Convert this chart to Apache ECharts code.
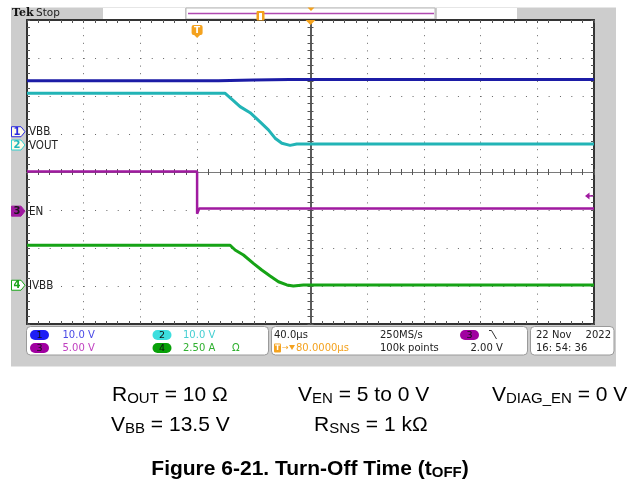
<!DOCTYPE html>
<html><head><meta charset="utf-8">
<script src="https://cdn.jsdelivr.net/npm/echarts@6/dist/echarts.min.js"></script>
<style>html,body{margin:0;padding:0;background:#fff}#c{width:633px;height:481px}</style>
</head><body><div id="c"></div>
<script>
// ---- time axis (µs, 0 = trigger), 40 µs/div, 10 divisions ----
const timeMin = -120, timeMax = 280, timeDiv = 40;
const divMin = -4, divMax = 4;
// ---- channel settings ----
const channelNames = ['VBB', 'VOUT', 'EN', 'IVBB'];
const channelScales = [10, 10, 5, 2.5];          // units per division
const channelOffsets = [1.06, 0.71, -1.03, -2.98]; // ground marker position (div)
const channelColors = ['#1c1ca6', '#22b4b6', '#a01aa0', '#16a316'];
const triggerLevel = 2.0;      // V on channel 3
const horizPosition = 80;      // µs (screen centre)
// ---- traces (time µs, value in V / A) ----
const vbbTime   = [-120, 15, 40, 65, 280];
const vbbValues = [13.4, 13.4, 13.6, 13.75, 13.75];
const voutTime   = [-120, 19.8, 25.6, 30.3, 37.4, 44.4, 50.3, 55.0, 59.8, 65.6, 70.3, 280];
const voutValues = [13.6, 13.6, 11.7, 10.1, 8.5, 6.1, 4.0, 1.8, 0.45, -0.1, 0.25, 0.25];
const enTime   = [-120, 0, 0, 1.5, 280];
const enValues = [5.2, 5.2, -0.35, 0.35, 0.35];
const ivbbTime   = [-120, 23.3, 26.8, 32.7, 39.7, 45.6, 51.5, 57.4, 63.3, 67.9, 75, 280];
const ivbbValues = [2.63, 2.63, 2.32, 1.99, 1.44, 1.00, 0.61, 0.23, 0.02, -0.05, 0.02, 0.02];

const traceTimes = [vbbTime, voutTime, enTime, ivbbTime];
const traceValues = [vbbValues, voutValues, enValues, ivbbValues];

const chart = echarts.init(document.getElementById('c'), null, {renderer: 'canvas'});
const G = {left: 27, top: 20, width: 567, height: 304};
const frameLine = {show: true, onZero: false, lineStyle: {color: '#333', width: 2}};
const tickIn = {show: true, inside: true, length: 3, lineStyle: {color: '#555', width: 1}};
const minor = {show: true, splitNumber: 5, length: 3, lineStyle: {color: '#555', width: 1}};
const noLabel = {show: false};

function centerX(inside) {
  return {type: 'value', min: -200, max: 200, interval: 40,
    axisLine: {show: true, onZero: true, lineStyle: {color: '#7a7a7a', width: 1.2}},
    axisTick: {show: true, inside: inside, length: 3, lineStyle: {color: '#555'}},
    minorTick: minor, axisLabel: noLabel, splitLine: {show: false}};
}
function centerY(inside) {
  return {type: 'value', min: divMin, max: divMax, interval: 1,
    axisLine: {show: true, onZero: true, lineStyle: {color: '#555', width: 1.6}},
    axisTick: {show: true, inside: inside, length: 3, lineStyle: {color: '#555'}},
    minorTick: minor, axisLabel: noLabel, splitLine: {show: false}};
}

const series = traceTimes.map((ts, i) => ({
  name: channelNames[i], type: 'line', xAxisIndex: 0, yAxisIndex: 0,
  showSymbol: false, symbol: 'none', animation: false, z: 5 + (i === 2 ? 0 : 1),
  lineStyle: {color: channelColors[i], width: i === 2 ? 2.5 : 3},
  data: ts.map((t, k) => [t, channelOffsets[i] + traceValues[i][k] / channelScales[i]])
}));

chart.setOption({
  animation: false,
  backgroundColor: '#ffffff',
  grid: [Object.assign({}, G), Object.assign({}, G), Object.assign({}, G)],
  xAxis: [
    {gridIndex: 0, type: 'value', min: timeMin, max: timeMax, interval: timeDiv, position: 'bottom',
     axisLine: frameLine, axisTick: tickIn, minorTick: minor, axisLabel: noLabel,
     splitLine: {show: true, lineStyle: {color: '#666', width: 1, type: [1, 6.6]}}},
    {gridIndex: 0, type: 'value', min: timeMin, max: timeMax, interval: timeDiv, position: 'top',
     axisLine: frameLine, axisTick: tickIn, minorTick: minor, axisLabel: noLabel, splitLine: {show: false}},
    Object.assign({gridIndex: 1}, centerX(true)),
    Object.assign({gridIndex: 2}, centerX(false))
  ],
  yAxis: [
    {gridIndex: 0, type: 'value', min: divMin, max: divMax, interval: 1, position: 'left',
     axisLine: frameLine, axisTick: tickIn, minorTick: minor, axisLabel: noLabel,
     splitLine: {show: true, lineStyle: {color: '#666', width: 1, type: [1, 10.34]}}},
    {gridIndex: 0, type: 'value', min: divMin, max: divMax, interval: 1, position: 'right',
     axisLine: frameLine, axisTick: tickIn, minorTick: minor, axisLabel: noLabel, splitLine: {show: false}},
    Object.assign({gridIndex: 1}, centerY(true)),
    Object.assign({gridIndex: 2}, centerY(false))
  ],
  series: series
});

// ---- decorations computed from the scales ----
const px = (t, v) => chart.convertToPixel({xAxisIndex: 0, yAxisIndex: 0}, [t, v]);
const FONT = '"DejaVu Sans", sans-serif';
const NARROW = '"Liberation Sans Narrow", "DejaVu Sans Condensed", sans-serif';
const els = [];
function txt(x, y, s, color, size, opts) {
  opts = opts || {};
  els.push({type: 'text', z: 30, style: Object.assign({
    x: x, y: y, text: s, fill: color, font: (opts.weight || 'normal') + ' ' + size + 'px ' + (opts.family || FONT),
    textAlign: opts.align || 'left', align: opts.align || 'left',
    textVerticalAlign: 'middle', verticalAlign: 'middle'}, opts.extra || {})});
}
// background panel
els.push({type: 'rect', z: -10, shape: {x: 11, y: 7.5, width: 605, height: 359}, style: {fill: '#cdcdcd'}});
els.push({type: 'rect', z: -9, shape: {x: G.left, y: G.top, width: G.width, height: G.height}, style: {fill: '#ffffff'}});
// top bar
els.push({type: 'rect', z: -9, shape: {x: 103, y: 8, width: 82, height: 11}, style: {fill: '#fff'}});
els.push({type: 'rect', z: -9, shape: {x: 186, y: 8, width: 249, height: 11}, style: {fill: '#fff', stroke: '#b8b8b8', lineWidth: 1}});
els.push({type: 'rect', z: -9, shape: {x: 437, y: 8, width: 80, height: 11}, style: {fill: '#fff'}});
els.push({type: 'line', z: 20, shape: {x1: 188, y1: 13.5, x2: 434, y2: 13.5}, style: {stroke: '#b04ab0', lineWidth: 1.5}});
els.push({type: 'rect', z: 21, shape: {x: 257, y: 11.5, width: 7, height: 8.5}, style: {fill: '#f4a21e', stroke: '#f4a21e'}});
els.push({type: 'rect', z: 22, shape: {x: 259, y: 13, width: 3, height: 7}, style: {fill: '#fff'}});
els.push({type: 'polygon', z: 21, shape: {points: [[307.5, 7.5], [314.5, 7.5], [311, 11]]}, style: {fill: '#f4a21e'}});
txt(12, 13.5, 'Tek', '#111', 11, {weight: 'bold', family: '"DejaVu Serif", serif'});
txt(36, 13.5, 'Stop', '#222', 10.5);

// trigger marker and horizontal position marker
const trigX = px(0, 0)[0];
const posX = px(horizPosition, 0)[0];
els.push({type: 'rect', z: 21, shape: {x: trigX - 5.5, y: 25, width: 11, height: 10, r: 2}, style: {fill: '#f4a21e'}});
els.push({type: 'polygon', z: 21, shape: {points: [[trigX - 4, 34], [trigX + 4, 34], [trigX, 38]]}, style: {fill: '#f4a21e'}});
txt(trigX, 30.5, 'T', '#fff', 9, {weight: 'bold', align: 'center'});
els.push({type: 'polygon', z: 21, shape: {points: [[posX - 5, 20], [posX + 5, 20], [posX, 25]]}, style: {fill: '#f4a21e'}});

// trigger level arrow (channel 3)
const tlY = px(0, channelOffsets[2] + triggerLevel / channelScales[2])[1];
els.push({type: 'polygon', z: 21, shape: {points: [[585, tlY], [589.5, tlY - 3.5], [589.5, tlY + 3.5]]}, style: {fill: '#a01aa0'}});
els.push({type: 'line', z: 21, shape: {x1: 588, y1: tlY, x2: 593, y2: tlY}, style: {stroke: '#a01aa0', lineWidth: 1.5}});

// channel ground markers and names
const markerFill = ['#fffbe8', '#fffbe8', '#a01aa0', '#ffffff'];
const markerStroke = ['#2a2ae0', '#33d0d0', '#a01aa0', '#1aa51a'];
const markerText = ['#2a2ae0', '#1fb8bb', '#1a1a1a', '#1aa51a'];
channelNames.forEach((n, i) => {
  const y = px(0, channelOffsets[i])[1];
  els.push({type: 'polygon', z: 21, shape: {points: [[11.5, y - 5], [21, y - 5], [25, y], [21, y + 5], [11.5, y + 5]]},
    style: {fill: markerFill[i], stroke: markerStroke[i], lineWidth: 1}});
  txt(17, y + 0.5, String(i + 1), markerText[i], 10, {weight: 'bold', align: 'center'});
  txt(29, y + 0.5, n, '#222', 11.5, {family: NARROW});
});

// bottom info boxes
const r1 = 335, r2 = 348;
[[26.5, 242], [271.5, 256], [530.5, 83.5]].forEach(b => {
  els.push({type: 'rect', z: -8, shape: {x: b[0], y: 326.5, width: b[1], height: 28.5, r: 4}, style: {fill: '#fff', stroke: '#9a9a9a', lineWidth: 1}});
});
function oval(x, y, fill, d) {
  els.push({type: 'rect', z: 20, shape: {x: x, y: y - 5, width: 19, height: 10, r: 5}, style: {fill: fill}});
  txt(x + 9.5, y + 0.5, d, '#111', 9.5, {align: 'center'});
}
oval(30, r1, '#1f1ff5', '1'); txt(62.5, r1, '10.0 V', '#4a4ae6', 10);
oval(152.5, r1, '#3ddede', '2'); txt(183, r1, '10.0 V', '#45cfd2', 10);
oval(30, r2, '#a000a0', '3'); txt(62.5, r2, '5.00 V', '#c040c0', 10);
oval(152.5, r2, '#08a008', '4'); txt(183, r2, '2.50 A', '#30b030', 10); txt(232, r2, 'Ω', '#30b030', 10);
txt(274, r1, '40.0µs', '#222', 10);
els.push({type: 'rect', z: 20, shape: {x: 274, y: r2 - 4.5, width: 7, height: 9, r: 1}, style: {fill: '#f4a21e'}});
txt(277.5, r2 + 0.5, 'T', '#fff', 7.5, {weight: 'bold', align: 'center'});
txt(282, r2, '→', '#f4a21e', 8);
els.push({type: 'polygon', z: 20, shape: {points: [[289, r2 - 3], [295, r2 - 3], [292, r2 + 2]]}, style: {fill: '#f4a21e'}});
txt(296, r2, '80.0000µs', '#f4a21e', 10);
txt(380, r1, '250MS/s', '#222', 10);
txt(380, r2, '100k points', '#222', 10);
oval(460, r1, '#a000a0', '3');
els.push({type: 'polyline', z: 20, shape: {points: [[489, 330.5], [491.5, 330.5], [496.5, 339]]}, style: {stroke: '#333', lineWidth: 1, fill: null}});
txt(470.5, r2, '2.00 V', '#222', 10);
txt(536, r1, '22 Nov', '#222', 10);
txt(611, r1, '2022', '#222', 10, {align: 'right'});
txt(536, r2, '16: 54: 36', '#222', 10);

// conditions and caption
const CAP = '"Liberation Sans", Arial, sans-serif';
const rich = {
  m: {fontSize: 21, fontFamily: CAP, fill: '#000', color: '#000', lineHeight: 26, verticalAlign: 'bottom'},
  s: {fontSize: 15, fontFamily: CAP, fill: '#000', color: '#000', lineHeight: 14, verticalAlign: 'bottom'},
  b: {fontSize: 21, fontFamily: CAP, fontWeight: 'bold', fill: '#000', color: '#000', lineHeight: 26, verticalAlign: 'bottom'},
  bs: {fontSize: 15, fontFamily: CAP, fontWeight: 'bold', fill: '#000', color: '#000', lineHeight: 14, verticalAlign: 'bottom'}
};
function rt(x, y, s, align) {
  els.push({type: 'text', z: 30, style: {x: x, y: y, text: s, rich: rich, fill: '#000',
    textAlign: align || 'left', align: align || 'left', textVerticalAlign: 'middle', verticalAlign: 'middle'}});
}
rt(112, 393, '{m|R}{s|OUT}{m| = 10 Ω}');
rt(298, 393, '{m|V}{s|EN}{m| = 5 to 0 V}');
rt(492, 393, '{m|V}{s|DIAG_EN}{m| = 0 V}');
rt(111, 423, '{m|V}{s|BB}{m| = 13.5 V}');
rt(314, 423, '{m|R}{s|SNS}{m| = 1 kΩ}');
rt(310, 467, '{b|Figure 6-21. Turn-Off Time (t}{bs|OFF}{b|)}', 'center');

chart.setOption({graphic: {elements: els}});
</script>
</body></html>
